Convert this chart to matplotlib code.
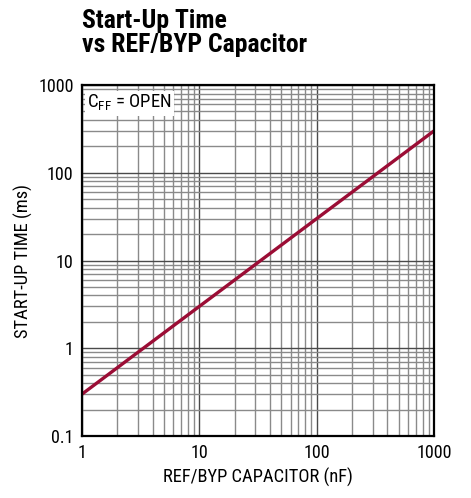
import matplotlib
matplotlib.use("Agg")
import matplotlib.pyplot as plt
from matplotlib import font_manager

# start-up time vs REF/BYP capacitor, CFF open
cap_nf = [1, 1000]
startup_ms = [0.3, 300]

x_ticks = [1, 10, 100, 1000]
x_labels = ["1", "10", "100", "1000"]
y_ticks = [0.1, 1, 10, 100, 1000]
y_labels = ["0.1", "1", "10", "100", "1000"]

names = {f.name for f in font_manager.fontManager.ttflist}
font = "DejaVu Sans"
for cand in ["Roboto Condensed", "Liberation Sans Narrow", "Liberation Sans"]:
    if cand in names:
        font = cand
        break
plt.rcParams["font.family"] = [font, "DejaVu Sans"]

fig = plt.figure(figsize=(4.71, 4.98), dpi=100)
ax = fig.add_axes([82 / 471, 1 - 436 / 498, 352 / 471, 351 / 498])

ax.set_xscale("log")
ax.set_yscale("log")
ax.set_xlim(1, 1000)
ax.set_ylim(0.1, 1000)

ax.grid(True, which="major", color="#4a4a4a", linewidth=1.0)
ax.grid(True, which="minor", color="#8a8a8a", linewidth=1.0)
ax.set_axisbelow(True)

ax.plot(cap_nf, startup_ms, color="#9b0d35", linewidth=2.4, solid_capstyle="butt")

ax.set_xticks(x_ticks)
ax.set_xticklabels(x_labels)
ax.set_yticks(y_ticks)
ax.set_yticklabels(y_labels)
ax.tick_params(which="both", length=0, labelsize=13, pad=6)

for s in ax.spines.values():
    s.set_linewidth(1.6)
    s.set_color("black")

ax.set_xlabel("REF/BYP CAPACITOR (nF)", fontsize=13.3, labelpad=4)
ax.set_ylabel("START-UP TIME (ms)", fontsize=13.3, labelpad=4)

ax.text(1.1, 620, r"C$_{\mathregular{FF}}$ = OPEN", fontsize=13.5, va="center", ha="left",
        bbox=dict(boxstyle="square,pad=0.12", facecolor="white", edgecolor="none"))

fig.text(82 / 471, 1 - 9 / 498, "Start-Up Time\nvs REF/BYP Capacitor", fontsize=18.5,
         fontweight="bold", va="top", ha="left", linespacing=1.0)

fig.savefig("out.png", dpi=100)
